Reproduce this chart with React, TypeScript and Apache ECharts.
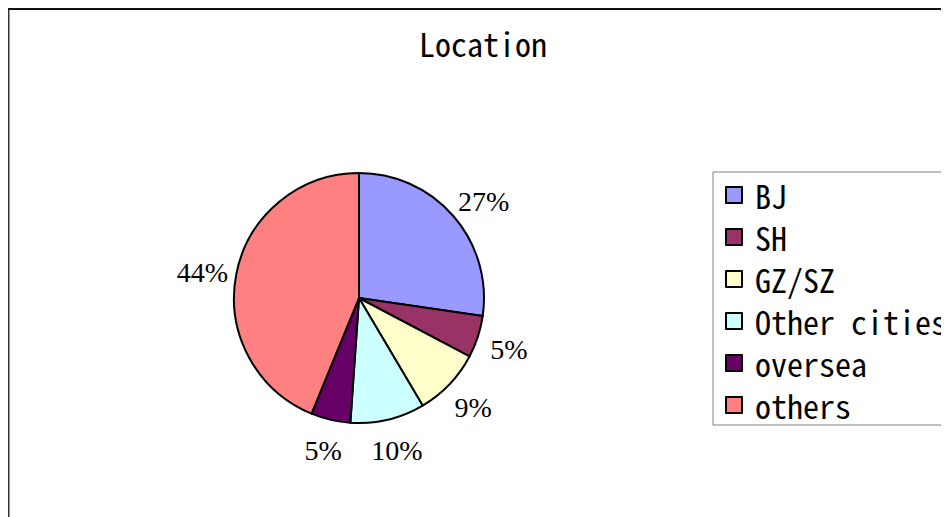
import React, { useEffect, useRef } from "react";
import * as echarts from "echarts";

const categories = ["BJ", "SH", "GZ/SZ", "Other cities", "oversea", "others"];
const shares = [27.3, 5.45, 8.75, 9.6, 5.1, 43.8];
const colors = ["#9999FF", "#993366", "#FFFFCC", "#CCFFFF", "#660066", "#FF8080"];
const titleText = "Location";

const VW = 941;
const W = 1000;
const H = 509;
const CX = 351;
const CY = 290;
const R = 125;
const LABEL_GAP = 14;

const monoFont = "'Noto Sans Mono CJK SC', 'Liberation Mono', monospace";
const serifFont = "'Liberation Serif', 'Times New Roman', serif";

const total = shares.reduce((a, b) => a + b, 0);
const midAngles = shares.map((v, i) => {
  const before = shares.slice(0, i).reduce((a, b) => a + b, 0);
  return ((before + v / 2) / total) * Math.PI * 2;
});

export default function App() {
  const ref = useRef<HTMLDivElement>(null);
  useEffect(() => {
    if (!ref.current) return;
    const chart = echarts.init(ref.current, undefined, { renderer: "svg" });
    chart.setOption({
      animation: false,
      backgroundColor: "#ffffff",
      graphic: [
        { type: "rect", shape: { x: 0, y: 0, width: 1.5, height: H }, style: { fill: "#333" }, silent: true },
        { type: "rect", shape: { x: 0, y: 0, width: W, height: 2 }, style: { fill: "#111" }, silent: true },
        {
          type: "text",
          x: 475,
          y: 35,
          style: {
            text: titleText,
            font: "32px " + monoFont,
            fill: "#000",
            align: "center",
            verticalAlign: "middle",
          },
          silent: true,
        },
      ],
      legend: {
        orient: "vertical",
        left: 705,
        top: 164,
        padding: [7, 14, 4, 12],
        itemGap: 10,
        itemWidth: 16,
        itemHeight: 16,
        icon: "rect",
        borderColor: "#808080",
        borderWidth: 1,
        itemStyle: { borderColor: "#000", borderWidth: 2 },
        textStyle: {
          fontFamily: monoFont,
          fontSize: 32,
          lineHeight: 32,
          color: "#000",
          padding: [0, 0, 0, 8],
        },
        data: categories,
      },
      series: [
        {
          type: "pie",
          center: [CX, CY],
          radius: R,
          startAngle: 90,
          clockwise: true,
          avoidLabelOverlap: false,
          itemStyle: { borderColor: "#000", borderWidth: 2 },
          emphasis: { disabled: true },
          label: {
            show: true,
            position: "outside",
            formatter: (p: any) => Math.round(p.percent) + "%",
            fontFamily: serifFont,
            fontSize: 28,
            color: "#000",
          },
          labelLine: { show: false, length: 5, length2: 0 },
          labelLayout: (p: any) => {
            const r = p.labelRect;
            const a = midAngles[p.dataIndex];
            const dx = Math.sin(a);
            const dy = -Math.cos(a);
            const dist = R + LABEL_GAP;
            return {
              x: CX + dx * dist + dx * (r.width / 2) + (dx < -0.5 ? 5 : 0),
              y: CY + dy * dist + dy * (r.height / 2) + 4,
              align: "center",
              verticalAlign: "middle",
            };
          },
          data: categories.map((c, i) => ({
            name: c,
            value: shares[i],
            itemStyle: { color: colors[i] },
          })),
        },
      ],
    });
    return () => chart.dispose();
  }, []);
  return (
    <div style={{ width: VW, height: H, overflow: "hidden" }}>
      <div ref={ref} style={{ width: W, height: H }} />
    </div>
  );
}
